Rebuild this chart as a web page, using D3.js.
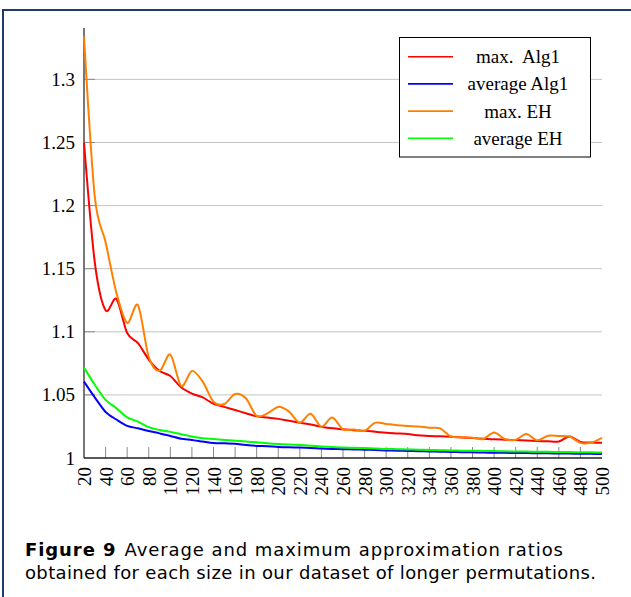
<!DOCTYPE html>
<html>
<head>
<meta charset="utf-8">
<script src="https://cdn.jsdelivr.net/npm/d3@7"></script>
<style>
  html, body { margin: 0; padding: 0; background: #fff; }
  svg { display: block; }
</style>
</head>
<body>
<svg id="chart" width="631" height="597"></svg>
<script>
const sizes = d3.range(20, 501, 10);

const maxAlg1 = [1.250, 1.155, 1.117, 1.126, 1.099, 1.091, 1.078, 1.069, 1.065, 1.056,
  1.051, 1.048, 1.043, 1.0405, 1.038, 1.0355, 1.033, 1.032, 1.031, 1.0295,
  1.028, 1.0265, 1.0248, 1.0235, 1.0227, 1.022, 1.0215, 1.0208, 1.020, 1.0195,
  1.019, 1.018, 1.0175, 1.0172, 1.0168, 1.0163, 1.0158, 1.0153, 1.0148, 1.0145,
  1.0142, 1.0138, 1.0135, 1.0132, 1.013, 1.017, 1.0128, 1.0122, 1.012];

const avgAlg1 = [1.0605, 1.048, 1.0365, 1.0305, 1.0255, 1.0235, 1.0214, 1.0195, 1.0175, 1.0152,
  1.0143, 1.0130, 1.0118, 1.0116, 1.0112, 1.0103, 1.0096, 1.0093, 1.0088, 1.0085,
  1.0083, 1.0080, 1.0075, 1.0072, 1.0070, 1.0068, 1.0066, 1.0063, 1.0060, 1.0058,
  1.0056, 1.0054, 1.0052, 1.0050, 1.0048, 1.0046, 1.0045, 1.0043, 1.0042, 1.0041,
  1.0040, 1.0039, 1.0038, 1.0037, 1.0036, 1.0035, 1.0034, 1.0033, 1.0032];

const maxEH = [1.334, 1.207, 1.171, 1.131, 1.107, 1.121, 1.080, 1.069, 1.082, 1.057,
  1.069, 1.0605, 1.0446, 1.0428, 1.0507, 1.0473, 1.0333, 1.0354, 1.0405, 1.0367,
  1.028, 1.035, 1.0248, 1.032, 1.0227, 1.0225, 1.0216, 1.028, 1.027, 1.026,
  1.0254, 1.025, 1.024, 1.0235, 1.017, 1.0165, 1.016, 1.015, 1.0203, 1.015,
  1.0145, 1.019, 1.014, 1.0177, 1.0175, 1.017, 1.012, 1.0122, 1.016];

const avgEH = [1.0716, 1.058, 1.046, 1.0395, 1.0322, 1.0288, 1.0245, 1.0222, 1.0207, 1.0188,
  1.0170, 1.0157, 1.0150, 1.0143, 1.0137, 1.0131, 1.0124, 1.0116, 1.0110, 1.0106,
  1.0103, 1.0098, 1.0092, 1.0087, 1.0083, 1.0081, 1.0079, 1.0076, 1.0072, 1.0070,
  1.0068, 1.0066, 1.0064, 1.0062, 1.0060, 1.0058, 1.0057, 1.0056, 1.0055, 1.0053,
  1.0052, 1.0051, 1.0050, 1.0049, 1.0048, 1.0047, 1.0046, 1.0045, 1.0044];

const seriesNames = ["max.  Alg1", "average Alg1", "max. EH", "average EH"];
const seriesColors = ["#ff0000", "#0000ff", "#ff8000", "#00ff00"];
const yTicks = [1, 1.05, 1.1, 1.15, 1.2, 1.25, 1.3];
const yTickLabels = ["1", "1.05", "1.1", "1.15", "1.2", "1.25", "1.3"];
const xTicks = d3.range(20, 501, 20);
const captionBold = "Figure 9";
const captionLines = ["Average and maximum approximation ratios",
  "obtained for each size in our dataset of longer permutations."];

const seriesValues = [maxAlg1, avgAlg1, maxEH, avgEH];

const svg = d3.select("#chart");
const serif = "'Liberation Serif', 'Times New Roman', serif";
const sans = "'DejaVu Sans', sans-serif";

// frame (figure box)
svg.append("line").attr("x1", 3).attr("x2", 3).attr("y1", 9).attr("y2", 597)
  .attr("stroke", "#1d3a6b").attr("stroke-width", 2);
svg.append("line").attr("x1", 2).attr("x2", 631).attr("y1", 10).attr("y2", 10)
  .attr("stroke", "#1d3a6b").attr("stroke-width", 2);

const x = d3.scaleLinear().domain([20, 500]).range([84, 602]);
const y = d3.scaleLinear().domain([1, 1.3407]).range([458, 28]);

// grid
svg.append("g").selectAll("line").data(yTicks.filter(v => v > 1)).join("line")
  .attr("x1", x(20)).attr("x2", x(500))
  .attr("y1", d => y(d)).attr("y2", d => y(d))
  .attr("stroke", "#c4c4c4").attr("stroke-width", 1);

// y axis
const yAxis = d3.axisLeft(y).tickValues(yTicks).tickSize(0).tickPadding(9)
  .tickFormat((d, i) => yTickLabels[i]);
const gy = svg.append("g").attr("transform", `translate(${x(20)},0)`).call(yAxis);
gy.attr("font-family", serif);
gy.select(".domain").remove();
gy.selectAll("text").attr("font-family", serif).attr("font-size", 19).attr("fill", "#000");
svg.append("g").selectAll("line").data(yTicks.filter(v => v > 1)).join("line")
  .attr("x1", x(20)).attr("x2", x(20) + 11)
  .attr("y1", d => y(d)).attr("y2", d => y(d))
  .attr("stroke", "#8a8a8a").attr("stroke-width", 1);

// x axis
const xAxis = d3.axisBottom(x).tickValues(xTicks).tickSize(0).tickPadding(0);
const gx = svg.append("g").attr("transform", `translate(0,${y(1)})`).call(xAxis);
gx.attr("font-family", serif);
gx.select(".domain").remove();
gx.selectAll("text")
  .attr("font-family", serif).attr("font-size", 19).attr("fill", "#000")
  .attr("text-anchor", "end").attr("dy", null).attr("y", 0)
  .attr("transform", "translate(0,9) rotate(-90)")
  .attr("dominant-baseline", "central");
svg.append("g").selectAll("line").data(xTicks.slice(1, -1)).join("line")
  .attr("x1", d => x(d)).attr("x2", d => x(d))
  .attr("y1", y(1)).attr("y2", y(1) - 11)
  .attr("stroke", "#8a8a8a").attr("stroke-width", 1);

// axis lines
svg.append("line").attr("x1", x(20)).attr("x2", x(20)).attr("y1", y(1.3407)).attr("y2", y(1))
  .attr("stroke", "#555").attr("stroke-width", 1.6);
svg.append("line").attr("x1", x(20)).attr("x2", x(500)).attr("y1", y(1)).attr("y2", y(1))
  .attr("stroke", "#222").attr("stroke-width", 1.6);

// series
const line = d3.line().x((d, i) => x(sizes[i])).y(d => y(d))
  .curve(d3.curveCardinal.tension(0.1));
seriesValues.forEach((vals, k) => {
  svg.append("path").datum(vals).attr("d", line)
    .attr("fill", "none").attr("stroke", seriesColors[k])
    .attr("stroke-width", 2).attr("stroke-linejoin", "round");
});

// legend
const lg = svg.append("g");
lg.append("rect").attr("x", 399.5).attr("y", 37.5).attr("width", 191).attr("height", 119.5)
  .attr("fill", "#fff").attr("stroke", "#000").attr("stroke-width", 1);
seriesNames.forEach((name, k) => {
  const yy = 56.7 + k * 27.2;
  lg.append("line").attr("x1", 408).attr("x2", 453).attr("y1", yy).attr("y2", yy)
    .attr("stroke", seriesColors[k]).attr("stroke-width", 1.6);
  lg.append("text").attr("x", 518).attr("y", yy).attr("text-anchor", "middle")
    .attr("dominant-baseline", "central").attr("font-family", serif)
    .attr("font-size", 19).style("white-space", "pre").text(name);
});

// caption
const cap1 = svg.append("text").attr("x", 25).attr("y", 555.5)
  .attr("font-family", sans).attr("font-size", 18).attr("fill", "#000")
  .attr("textLength", 538).attr("lengthAdjust", "spacing");
cap1.append("tspan").attr("font-weight", "bold").text(captionBold);
cap1.append("tspan").attr("dx", 8).text(captionLines[0]);
svg.append("text").attr("x", 25).attr("y", 579)
  .attr("font-family", sans).attr("font-size", 18).attr("fill", "#000")
  .attr("textLength", 571).attr("lengthAdjust", "spacing")
  .text(captionLines[1]);
</script>
</body>
</html>
